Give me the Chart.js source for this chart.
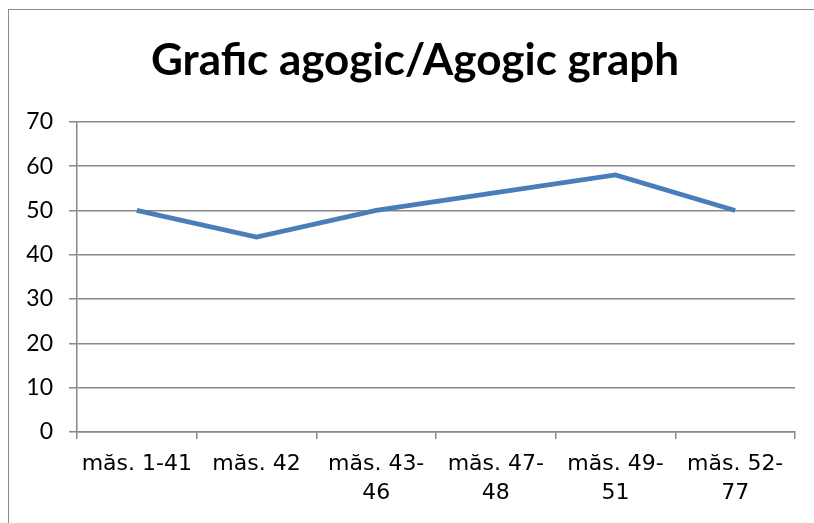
<!DOCTYPE html>
<html>
<head>
<meta charset="utf-8">
<script src="https://cdn.jsdelivr.net/npm/chart.js@4"></script>
<style>
  html, body { margin: 0; padding: 0; background: #fff; overflow: hidden; }
  #frame { position: absolute; left: 8px; top: 9px; width: 1200px; height: 900px; border: 1.5px solid #8a8a8a; }
  #wrap { position: absolute; left: 0; top: 0; width: 814px; height: 523px; }
</style>
</head>
<body>
<div id="frame"></div>
<div id="wrap"><canvas id="chart"></canvas></div>
<script>
const titleText = "Grafic agogic/Agogic graph";
const categories = [
  "măs. 1-41",
  "măs. 42",
  ["măs. 43-", "46"],
  ["măs. 47-", "48"],
  ["măs. 49-", "51"],
  ["măs. 52-", "77"]
];
const tempoValues = [50, 44, 50, 54, 58, 50];
const yTicks = { min: 0, max: 70, step: 10 };

const gridColor = "#878787";

// the original title sits a bit right of the canvas centre
const shiftTitle = {
  id: "shiftTitle",
  afterLayout(chart) {
    if (chart.titleBlock) chart.titleBlock.left += 35;
  }
};

new Chart(document.getElementById("chart").getContext("2d"), {
  type: "line",
  data: {
    labels: categories,
    datasets: [{
      label: "Tempo",
      data: tempoValues,
      borderColor: "#4a7ebb",
      borderWidth: 4.8,
      pointRadius: 0,
      tension: 0,
      fill: false
    }]
  },
  options: {
    responsive: true,
    maintainAspectRatio: false,
    animation: false,
    layout: { padding: { left: 0, right: 19, top: 0, bottom: 0 } },
    plugins: {
      legend: { display: false },
      tooltip: { enabled: false },
      title: {
        display: true,
        text: titleText,
        color: "#000",
        font: { family: "Lato", size: 44, weight: "bold", lineHeight: 1.2 },
        padding: { top: 34, bottom: 35 }
      }
    },
    scales: {
      x: {
        offset: true,
        grid: { offset: true, drawOnChartArea: false, color: gridColor, lineWidth: 1.5, tickLength: 7 },
        border: { color: gridColor, width: 1.5 },
        ticks: {
          color: "#000",
          maxRotation: 0,
          autoSkip: false,
          padding: 11,
          font: { family: "DejaVu Sans", size: 22, lineHeight: 1.3 }
        },
        afterFit: (scale) => { scale.height = 91; }
      },
      y: {
        min: yTicks.min,
        max: yTicks.max,
        grid: { color: gridColor, lineWidth: 1.5, tickLength: 8 },
        border: { color: gridColor, width: 1.5 },
        ticks: {
          stepSize: yTicks.step,
          color: "#000",
          padding: 16,
          font: { family: "Lato", size: 23 }
        },
        afterFit: (scale) => { scale.width = 77; }
      }
    }
  },
  plugins: [shiftTitle]
});
</script>
</body>
</html>
